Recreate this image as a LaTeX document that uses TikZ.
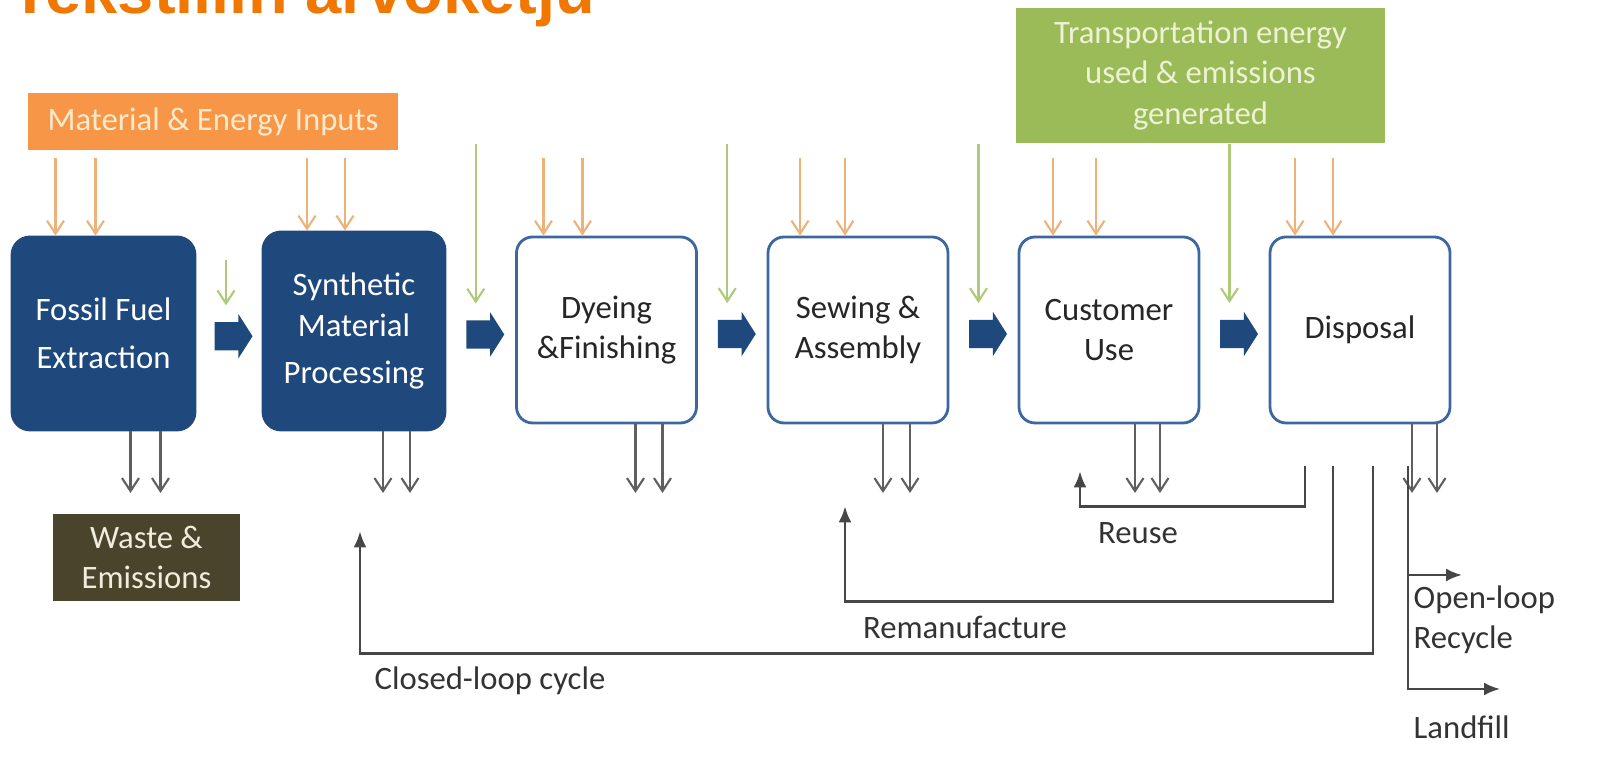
\documentclass[tikz,border=0pt]{standalone}
\usepackage{fontspec}
\setmainfont{Carlito}
\newfontfamily\titlefont{Liberation Sans}
\usetikzlibrary{positioning,calc,shapes.arrows,arrows.meta}

\definecolor{blaudunkel}{RGB}{31,73,125}
\definecolor{boxrand}{RGB}{62,102,160}
\definecolor{orangebox}{RGB}{247,150,70}
\definecolor{orangetext}{RGB}{253,234,205}
\definecolor{orangepfeil}{RGB}{238,178,120}
\definecolor{gruenbox}{RGB}{155,187,89}
\definecolor{gruentext}{RGB}{236,242,212}
\definecolor{gruenpfeil}{RGB}{172,202,122}
\definecolor{abfall}{RGB}{73,68,43}
\definecolor{abfalltext}{RGB}{240,237,222}
\definecolor{grau}{RGB}{95,95,95}
\definecolor{linie}{RGB}{70,70,70}
\definecolor{titelorange}{RGB}{240,120,0}

\tikzset{
    prozess/.style={draw=boxrand, line width=0.8pt, fill=white, rounded corners=0.16cm,
        minimum width=1.80cm, minimum height=1.86cm, align=center, text=black!85},
    prozessdunkel/.style={prozess, draw=blaudunkel, fill=blaudunkel, text=white, rounded corners=0.18cm},
    blockpfeil/.style={single arrow, fill=blaudunkel, inner xsep=0pt, inner ysep=0.135cm,
        minimum height=0.38cm, minimum width=0.43cm, single arrow head extend=0.08cm,
        single arrow head indent=0cm, single arrow tip angle=115},
    eingang/.style={draw=orangepfeil, line width=0.6pt, -{Straight Barb[length=1.3mm,width=1.7mm]}},
    transport/.style={draw=gruenpfeil, line width=0.6pt, -{Straight Barb[length=1.3mm,width=1.7mm]}},
    ausgang/.style={draw=grau, line width=0.6pt, -{Straight Barb[length=1.3mm,width=1.7mm]}},
    schleife/.style={draw=linie, line width=0.7pt, -{Latex[length=1.6mm,width=1.3mm]}},
    beschriftung/.style={text=black!80},
}

\begin{document}
\begin{tikzpicture}[font=\fontsize{9.3}{11.5}\selectfont]
    \path[use as bounding box] (0,0) rectangle (16.10,7.63);

    % Titel (oben abgeschnitten)
    \node[anchor=base west, inner sep=0pt, text=titelorange] (titel) at (0.10,7.49)
        {\titlefont\fontsize{18.5}{20}\selectfont\bfseries Tekstiilin arvoketju};

    % Kaesten oben
    \node[fill=orangebox, text=orangetext, minimum width=3.70cm, minimum height=0.57cm] (inputs)
        at (2.13,6.415) {Material \& Energy Inputs};
    \node[fill=gruenbox, text=gruentext, minimum width=3.69cm, minimum height=1.35cm, align=center] (gruen)
        at (12.005,6.875) {Transportation energy\\used \& emissions\\generated};

    % Prozesskette
    \node[prozessdunkel, minimum width=1.83cm, minimum height=1.93cm] (fossil) at (1.035,4.295) {Fossil Fuel\\[2pt]Extraction};
    \node[prozessdunkel, minimum width=1.82cm, minimum height=1.98cm] (synth) at (3.54,4.32) {Synthetic\\Material\\[2pt]Processing};
    \node[prozess] (dyeing) at (6.065,4.33) {Dyeing\\\&Finishing};
    \node[prozess] (sewing) at (8.58,4.33) {Sewing \&\\Assembly};
    \node[prozess] (customer) at (11.09,4.33) {Customer\\Use};
    \node[prozess] (disposal) at (13.60,4.33) {Disposal};

    % Blockpfeile
    \node[blockpfeil] (p1) at ($(fossil.east)!0.5!(synth.west)+(0,-0.04)$) {};
    \node[blockpfeil] (p2) at ($(synth.east)!0.5!(dyeing.west)+(0,-0.04)$) {};
    \node[blockpfeil] (p3) at ($(dyeing.east)!0.5!(sewing.west)+(0,-0.04)$) {};
    \node[blockpfeil] (p4) at ($(sewing.east)!0.5!(customer.west)+(0,-0.04)$) {};
    \node[blockpfeil] (p5) at ($(customer.east)!0.5!(disposal.west)+(0,-0.04)$) {};

    % Eingaenge
    \coordinate (einlevel) at (0,6.05);
    \foreach \b/\a/\c in {fossil/-0.48/-0.08, synth/-0.47/-0.09, dyeing/-0.63/-0.24,
                          sewing/-0.58/-0.13, customer/-0.56/-0.13, disposal/-0.65/-0.27}{
        \draw[eingang] ([xshift=\a cm]\b.north |- einlevel) -- ([xshift=\a cm]\b.north);
        \draw[eingang] ([xshift=\c cm]\b.north |- einlevel) -- ([xshift=\c cm]\b.north);
    }

    % Transport
    \draw[transport] ([xshift=-0.03cm,yshift=0.61cm]p1.north) -- ([xshift=-0.03cm,yshift=0.16cm]p1.north);
    \foreach \p in {p2,p3,p4,p5}
        \draw[transport] ([xshift=-0.05cm]\p.north |- gruen.south) -- ([xshift=-0.05cm,yshift=0.16cm]\p.north);

    % Ausgaenge
    \coordinate (auslevel) at (0,2.70);
    \foreach \b/\a/\c in {fossil/0.27/0.57, synth/0.29/0.56, dyeing/0.29/0.56,
                          sewing/0.25/0.52, customer/0.26/0.51, disposal/0.52/0.77}{
        \draw[ausgang] ([xshift=\a cm]\b.south) -- ([xshift=\a cm]\b.south |- auslevel);
        \draw[ausgang] ([xshift=\c cm]\b.south) -- ([xshift=\c cm]\b.south |- auslevel);
    }

    \node[fill=abfall, text=abfalltext, minimum width=1.87cm, minimum height=0.81cm, align=center] (waste)
        at (1.465,2.055) {Waste \&\\Emissions};

    % Rueckfuehrungen
    \draw[schleife] ([xshift=-0.55cm,yshift=-0.42cm]disposal.south)
        |- ([xshift=-0.29cm,yshift=-0.82cm]customer.south) -- ([xshift=-0.29cm,yshift=-0.47cm]customer.south);
    \draw[schleife] ([xshift=-0.27cm,yshift=-0.42cm]disposal.south)
        |- ([xshift=-0.13cm,yshift=-1.77cm]sewing.south) -- ([xshift=-0.13cm,yshift=-0.82cm]sewing.south);
    \draw[schleife] ([xshift=0.13cm,yshift=-0.42cm]disposal.south)
        |- ([xshift=0.06cm,yshift=-2.22cm]synth.south) -- ([xshift=0.06cm,yshift=-1.00cm]synth.south);

    % Offener Kreislauf
    \coordinate (abzweig) at (14.08,1.88);
    \coordinate (recycle) at (14.62,1.88);
    \coordinate (deponie) at (15.00,0.74);
    \draw[schleife] ([xshift=0.48cm,yshift=-0.42cm]disposal.south) |- (deponie);
    \draw[schleife] (abzweig) -- (recycle);

    % Beschriftungen
    \node[beschriftung] (reuse) at (11.38,2.30) {Reuse};
    \node[beschriftung] (reman) at (9.65,1.36) {Remanufacture};
    \node[beschriftung] (closed) at (4.90,0.82) {Closed-loop cycle};
    \node[beschriftung, anchor=west, inner sep=0pt, align=left] (openloop) at (14.13,1.43) {Open-loop\\Recycle};
    \node[beschriftung, anchor=west, inner sep=0pt] (landfill) at (14.13,0.36) {Landfill};
\end{tikzpicture}
\end{document}
